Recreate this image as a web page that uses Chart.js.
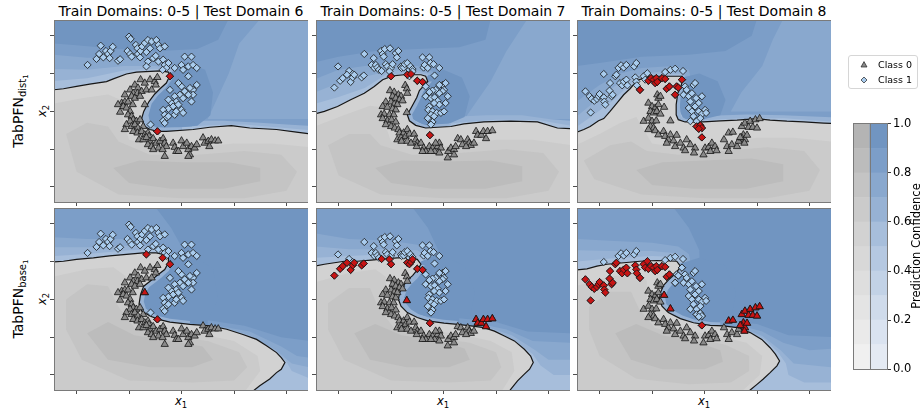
<!DOCTYPE html>
<html>
<head>
<meta charset="utf-8">
<script src="https://cdn.jsdelivr.net/npm/chart.js@4.4.1/dist/chart.umd.min.js"></script>
<style>
html,body{margin:0;padding:0;background:#fff}
body{width:924px;height:413px;position:relative;overflow:hidden;font-family:"DejaVu Sans",sans-serif;color:#000}
canvas{position:absolute}
.ttl{position:absolute;top:3px;width:254px;text-align:center;font-size:14px;line-height:16px;white-space:nowrap}
.rot{position:absolute;transform:translate(-50%,-50%) rotate(-90deg);white-space:nowrap;line-height:1}
.row{font-size:14px}
.row sub{font-size:10px;vertical-align:-3px}
.row sub sub{font-size:7px;vertical-align:-2px}
.ax{font-size:11.5px;font-style:italic;line-height:1}
.ax sub{font-style:normal;font-size:8.5px;vertical-align:-3px}
.xl{position:absolute;top:396px;transform:translateX(-50%);white-space:nowrap}
.cbl{font-size:11.5px}
.legend{position:absolute;left:848px;top:55px;width:68px;height:32px;border:1px solid #d6d6d6;border-radius:3px;background:#fff}
.legend .lab{position:absolute;left:29px;font-size:9.5px;line-height:11px;white-space:nowrap}
.legend svg{position:absolute;left:10px}
</style>
</head>
<body>
<div class="ttl" style="left:54px">Train Domains: 0-5 | Test Domain 6</div>
<div class="ttl" style="left:316px">Train Domains: 0-5 | Test Domain 7</div>
<div class="ttl" style="left:577px">Train Domains: 0-5 | Test Domain 8</div>

<div class="rot row" style="left:20px;top:111px">TabPFN<sub>dist<sub>1</sub></sub></div>
<div class="rot row" style="left:20px;top:299px">TabPFN<sub>base<sub>1</sub></sub></div>
<div class="rot ax" style="left:44px;top:111px">x<sub>2</sub></div>
<div class="rot ax" style="left:44px;top:299px">x<sub>2</sub></div>
<div class="ax xl" style="left:181px">x<sub>1</sub></div>
<div class="ax xl" style="left:443px">x<sub>1</sub></div>
<div class="ax xl" style="left:704px">x<sub>1</sub></div>

<canvas id="p1" width="258" height="186" style="left:50px;top:20px"></canvas>
<canvas id="p2" width="258" height="186" style="left:312px;top:20px"></canvas>
<canvas id="p3" width="258" height="186" style="left:573px;top:20px"></canvas>
<canvas id="p4" width="258" height="186" style="left:50px;top:208px"></canvas>
<canvas id="p5" width="258" height="186" style="left:312px;top:208px"></canvas>
<canvas id="p6" width="258" height="186" style="left:573px;top:208px"></canvas>

<canvas id="cbar" width="71" height="263" style="left:853px;top:115px"></canvas>
<div class="rot cbl" style="left:917px;top:246px">Prediction Confidence</div>

<div class="legend">
  <svg width="10" height="10" style="top:4px" viewBox="-5 -5 10 10"><polygon points="0,-3.4 3,2 -3,2" fill="#8a8a8a" stroke="#222" stroke-width="0.7"/></svg>
  <div class="lab" style="top:3px">Class 0</div>
  <svg width="10" height="10" style="top:19px" viewBox="-5 -5 10 10"><polygon points="0,-3 3,0 0,3 -3,0" fill="#a9ccee" stroke="#222" stroke-width="0.7"/></svg>
  <div class="lab" style="top:18px">Class 1</div>
</div>

<script>
// ---- axes (feature space) ----
const xLimits = [-2.43, 2.41];
const yLimits = [-2.40, 2.42];
const tickPositions = [-2, -1, 0, 1, 2];

// ---- colour bar: confidence band edges, tick labels, shades per class ----
const bandEdges = [0, 0.1, 0.2, 0.3, 0.4, 0.5, 0.6, 0.7, 0.8, 0.9, 1.0];
const cbarTicks = [0, 0.2, 0.4, 0.6, 0.8, 1.0];
const blueShades = ['#e4eaf3','#dae3f0','#cfdbeb','#c2d2e6','#b5c8e1','#a7bedb','#97b2d4','#89a8ce','#7c9ec8','#7195c1'];
const greyShades = ['#f0f0f0','#eaeaea','#e4e4e4','#dedede','#d8d8d8','#d2d2d2','#cbcbcb','#c4c4c4','#bcbcbc','#b4b4b4'];

// ---- test points, one set per test domain (x1, x2) ----
const trianglesD6 = [[-0.78,0.84],[-0.70,0.75],[-0.60,0.84],[-0.51,0.79],[-0.46,0.90],[-0.49,0.70],[-0.89,0.70],[-0.83,0.62],[-0.98,0.57],[-0.92,0.48],[-0.84,0.48],[-0.76,0.53],[-0.67,0.57],[-0.57,0.57],[-1.08,0.44],[-0.95,0.40],[-0.89,0.35],[-0.79,0.40],[-1.14,0.22],[-1.08,0.25],[-1.02,0.25],[-0.93,0.18],[-1.21,0.18],[-1.11,0.13],[-1.05,0.09],[-0.98,0.00],[-1.17,-0.02],[-1.02,-0.09],[-0.95,-0.13],[-0.92,-0.22],[-0.86,-0.26],[-0.79,-0.22],[-0.98,-0.26],[-1.05,-0.35],[-0.95,-0.40],[-0.89,-0.35],[-0.83,-0.44],[-1.08,-0.48],[-0.92,-0.53],[-0.84,-0.57],[-0.73,-0.40],[-0.76,-0.53],[-0.70,-0.62],[-0.64,-0.57],[-0.62,-0.66],[-0.81,-0.75],[-0.73,-0.75],[-0.67,-0.69],[-0.60,-0.79],[-0.54,-0.72],[-0.64,-0.88],[-0.57,-0.93],[-0.48,-0.84],[-0.41,-0.79],[-0.35,-0.72],[-0.32,-0.84],[-0.29,-0.93],[-0.44,-0.97],[-0.54,-1.01],[-0.36,-1.01],[-0.16,-0.84],[-0.13,-0.95],[-0.10,-1.06],[0.00,-0.78],[0.03,-0.93],[0.10,-0.84],[0.13,-1.01],[0.19,-0.93],[0.16,-1.15],[0.25,-0.97],[0.29,-0.88],[0.41,-0.70],[0.44,-0.84],[0.51,-0.79],[0.57,-0.75],[0.64,-0.78],[0.70,-0.78],[0.53,-0.93],[-0.06,-1.06],[-0.32,-1.19],[0.13,-1.19]];
const diamondsD6 = [[-1.79,1.23],[-1.62,1.39],[-1.57,1.52],[-1.54,1.74],[-1.49,1.43],[-1.44,1.60],[-1.40,1.52],[-1.37,1.41],[-1.35,1.60],[-1.31,1.71],[-1.21,1.34],[-1.17,1.38],[-1.00,1.98],[-0.97,1.92],[-1.03,1.60],[-0.98,1.52],[-0.95,1.45],[-0.87,1.76],[-0.84,1.67],[-0.83,1.52],[-0.79,1.43],[-0.78,1.60],[-0.75,1.72],[-0.70,1.81],[-0.67,1.57],[-0.64,1.89],[-0.60,1.67],[-0.57,1.85],[-0.54,1.41],[-0.64,1.32],[-0.48,1.89],[-0.44,1.76],[-0.41,1.67],[-0.32,1.72],[-0.49,1.47],[-0.44,1.32],[-0.35,1.37],[-0.32,1.23],[-0.25,1.28],[-0.29,1.15],[-0.13,1.15],[0.00,1.23],[0.06,1.45],[0.19,1.45],[0.03,1.10],[0.13,1.19],[0.22,1.23],[0.29,1.15],[0.13,0.93],[0.29,0.70],[0.22,0.57],[0.16,0.62],[0.06,0.53],[0.00,0.66],[-0.03,0.44],[-0.13,0.40],[-0.10,0.26],[-0.19,0.22],[-0.16,0.13],[-0.25,0.07],[-0.06,0.18],[0.00,0.04],[0.03,-0.04],[-0.35,0.04],[-0.32,-0.09],[-0.29,-0.18],[-0.35,-0.25],[-0.32,-0.31],[-0.25,-0.13],[-0.13,-0.09],[-0.10,0.00],[-0.25,0.31],[0.22,0.44],[0.19,0.26],[-0.22,0.57],[0.03,0.35],[0.13,0.44],[-0.59,-0.35],[-0.06,0.75]];

const trianglesD7 = [[-0.73,0.69],[-0.70,0.60],[-0.69,0.48],[-1.02,0.55],[-0.94,0.51],[-0.86,0.44],[-0.81,0.40],[-0.97,0.40],[-0.91,0.35],[-0.84,0.31],[-0.78,0.28],[-1.10,0.25],[-1.00,0.25],[-0.94,0.19],[-0.88,0.18],[-1.16,0.13],[-1.07,0.11],[-0.97,0.07],[-0.91,0.04],[-1.19,-0.09],[-1.13,-0.07],[-1.03,-0.09],[-0.95,-0.09],[-1.16,-0.19],[-1.07,-0.25],[-0.99,-0.22],[-0.91,-0.28],[-1.10,-0.35],[-1.00,-0.40],[-0.93,-0.44],[-0.86,-0.48],[-0.84,-0.57],[-0.76,-0.57],[-0.69,-0.48],[-0.88,-0.75],[-0.81,-0.70],[-0.72,-0.66],[-0.65,-0.60],[-0.56,-0.60],[-0.80,-0.79],[-0.69,-0.79],[-0.62,-0.84],[-0.53,-0.75],[-0.50,-0.84],[-0.51,-0.93],[-0.43,-0.84],[-0.38,-0.97],[-0.34,-1.06],[-0.27,-0.93],[-0.21,-0.97],[-0.17,-1.06],[-0.11,-0.93],[-0.08,-0.84],[-0.05,-0.97],[-0.08,-1.10],[0.08,-1.23],[0.09,-1.06],[0.14,-0.97],[0.20,-1.01],[0.23,-0.93],[0.27,-0.72],[0.33,-0.75],[0.36,-0.88],[0.46,-0.75],[0.49,-0.84],[0.52,-0.90],[0.58,-0.84],[0.43,-0.93],[0.20,-1.15],[-0.40,-1.06],[-0.24,-1.06],[-0.15,-0.84]];
const diamondsD7 = [[-2.01,1.19],[-1.80,1.07],[-1.73,0.99],[-1.51,1.52],[-1.37,1.23],[-1.33,1.41],[-1.32,1.15],[-1.29,1.23],[-1.26,1.16],[-1.23,1.10],[-1.19,1.60],[-1.16,1.52],[-1.14,1.45],[-1.12,1.65],[-1.10,1.25],[-1.07,1.19],[-1.02,1.67],[-1.00,1.15],[-0.97,1.25],[-0.91,1.54],[-0.89,1.43],[-0.86,1.60],[-0.81,1.19],[-0.80,1.15],[-0.76,1.16],[-0.74,1.25],[-0.69,1.28],[-0.65,1.10],[-0.63,1.19],[-0.59,1.12],[-0.40,1.43],[-0.38,1.16],[-0.36,1.23],[-0.27,1.43],[-0.30,1.15],[-0.25,1.28],[-0.19,1.25],[-0.17,0.95],[-0.08,1.15],[-0.02,0.70],[0.04,0.75],[0.08,0.40],[0.01,0.57],[0.04,0.22],[-0.02,0.53],[-0.08,0.48],[-0.15,0.57],[-0.21,0.55],[-0.27,0.51],[-0.34,0.40],[-0.24,0.35],[-0.17,0.37],[-0.11,0.28],[-0.08,0.18],[-0.18,0.22],[-0.27,0.13],[-0.29,0.04],[-0.21,0.00],[-0.13,-0.04],[-0.05,-0.04],[0.01,0.00],[-0.24,-0.09],[-0.27,-0.22],[-0.21,-0.28],[-0.24,-0.35],[-0.30,-0.18],[-0.18,-0.13],[-0.34,0.66],[-0.08,0.70]];

const trianglesD8 = [[-0.90,0.44],[-0.88,0.35],[-0.84,0.40],[-1.07,0.22],[-1.00,0.13],[-0.94,0.09],[-0.88,0.18],[-1.03,0.00],[-0.97,-0.04],[-0.91,0.00],[-0.84,-0.07],[-1.16,-0.26],[-1.07,-0.18],[-1.00,-0.26],[-0.92,-0.25],[-1.03,-0.40],[-0.97,-0.44],[-1.07,-0.48],[-0.94,-0.51],[-0.88,-0.62],[-0.78,-0.53],[-0.75,-0.66],[-0.69,-0.75],[-0.65,-0.62],[-0.59,-0.78],[-0.53,-0.63],[-0.72,-0.84],[-0.56,-0.93],[-0.46,-0.84],[-0.40,-0.97],[-0.34,-0.75],[-0.27,-0.88],[-0.37,-1.04],[-0.18,-0.97],[-0.20,-1.10],[-0.02,-1.15],[0.01,-0.97],[0.08,-0.95],[0.14,-0.84],[0.20,-0.93],[0.11,-1.06],[0.23,-1.04],[0.37,-0.75],[0.43,-0.93],[0.46,-1.06],[0.52,-0.88],[0.62,-0.93],[0.65,-0.79]];
const diamondsD8 = [[-1.92,0.99],[-1.64,1.15],[-1.59,1.22],[-1.54,1.16],[-1.49,1.23],[-1.34,1.19],[-1.30,1.28],[-0.75,1.04],[-0.65,1.10],[-0.56,1.13],[-0.41,1.07],[-0.53,0.66],[-0.50,0.63],[-0.43,0.84],[-0.56,0.44],[-0.15,-0.40],[-0.08,-0.37],[-0.05,-0.44],[-0.11,-0.46],[-0.37,0.66],[-0.34,0.57],[-0.40,0.44],[-0.30,0.40],[-0.27,0.26],[-0.21,0.70],[-0.18,0.75],[-0.24,0.48],[-0.16,0.35],[-0.11,0.22],[-0.05,0.40],[-0.30,0.09],[-0.24,0.00],[-0.18,0.13],[-0.11,0.00],[-0.05,-0.07],[0.01,0.04],[0.03,-0.04],[-0.21,-0.13],[-0.27,-0.26],[-0.15,-0.26],[-0.08,-0.18]];

// ---- misclassified points per model / test domain ----
const wrongDiaDist6 = [[-0.22,0.93],[-0.46,-0.53]];
const wrongTriBase6 = [[-0.70,0.18]];
const wrongDiaBase6 = [[-0.67,1.19],[-0.36,1.10],[-0.22,0.93],[-0.46,-0.53]];

const wrongDiaDist7 = [[-1.00,0.93],[-0.69,0.97],[-0.62,0.99],[-0.50,0.81],[-0.40,0.78],[-0.26,-0.63]];
const wrongTriBase7 = [[-0.70,-0.03],[0.62,-0.53],[0.65,-0.63],[0.72,-0.63],[0.76,-0.53],[0.84,-0.53],[0.93,-0.51],[0.81,-0.72]];
const wrongDiaBase7 = [[-2.08,0.63],[-1.97,0.81],[-1.92,0.88],[-1.84,0.97],[-1.77,0.78],[-1.73,0.90],[-1.70,0.97],[-1.56,0.90],[-1.52,0.95],[-1.18,1.07],[-1.03,1.06],[-1.00,0.93],[-0.69,0.97],[-0.65,0.93],[-0.62,0.99],[-0.59,1.06],[-0.50,0.81],[-0.40,0.78],[-0.26,-0.63]];

const wrongDiaDist8 = [[-1.23,0.57],[-1.07,0.81],[-1.02,0.88],[-0.97,0.84],[-0.94,0.75],[-0.92,0.88],[-0.90,0.78],[-0.81,0.88],[-0.75,0.86],[-0.72,0.60],[-0.67,0.66],[-0.53,0.66],[-0.50,0.63],[-0.43,0.84],[-0.56,0.44],[-0.15,-0.40],[-0.08,-0.37],[-0.05,-0.44],[-0.05,-0.69],[-0.11,-0.46]];
const wrongTriBase8 = [[-0.77,0.11],[-0.65,-0.25],[0.46,-0.57],[0.54,-0.55],[0.71,-0.40],[0.77,-0.31],[0.87,-0.26],[0.97,-0.22],[1.05,-0.19],[0.84,-0.42],[0.92,-0.42],[1.00,-0.44],[0.74,-0.62],[0.71,-0.70],[0.77,-0.75],[0.68,-0.69],[0.76,-0.84],[0.81,-0.63]];
const wrongDiaBase8 = [[-2.27,0.53],[-2.19,0.40],[-2.15,0.33],[-2.10,0.28],[-2.05,0.33],[-2.02,0.40],[-2.00,0.46],[-1.92,0.37],[-1.91,0.26],[-1.89,0.18],[-2.17,-0.03],[-1.81,0.55],[-1.80,0.75],[-1.77,0.40],[-1.75,0.44],[-1.70,0.93],[-1.68,0.97],[-1.61,0.75],[-1.57,0.69],[-1.54,0.79],[-1.49,0.84],[-1.47,0.69],[-1.32,0.90],[-1.30,0.79],[-1.29,0.69],[-1.23,0.57],[-1.16,0.93],[-1.13,0.84],[-1.09,1.01],[-1.07,0.81],[-1.02,0.88],[-0.97,0.84],[-0.94,0.75],[-0.92,0.88],[-0.90,0.78],[-0.81,0.88],[-0.75,0.86],[-0.72,0.60],[-0.67,0.66],[-0.05,-0.69]];

// ---- decision boundaries (p = 0.5 contour) ----
const edgeDist6 = [[-2.45,0.57],[-2.25,0.60],[-2.00,0.66],[-1.75,0.72],[-1.43,0.79],[-1.30,0.86],[-1.05,0.99],[-0.86,1.04],[-0.41,1.07],[-0.25,1.04],[-0.22,0.95],[-0.29,0.75],[-0.41,0.60],[-0.51,0.46],[-0.62,0.26],[-0.72,0.00],[-0.76,-0.19],[-0.70,-0.40],[-0.60,-0.48],[-0.46,-0.53],[-0.29,-0.53],[0.22,-0.48],[0.54,-0.42],[0.95,-0.38],[1.30,-0.44],[1.81,-0.48],[2.19,-0.55],[2.43,-0.59]];
const edgeDist7 = [[-2.45,-0.07],[-2.27,0.00],[-2.02,0.13],[-1.77,0.31],[-1.51,0.48],[-1.32,0.66],[-1.16,0.84],[-0.97,0.94],[-0.75,0.97],[-0.43,0.97],[-0.34,0.93],[-0.30,0.79],[-0.37,0.69],[-0.46,0.55],[-0.51,0.37],[-0.59,0.16],[-0.69,-0.09],[-0.65,-0.25],[-0.53,-0.37],[-0.34,-0.44],[-0.11,-0.42],[0.14,-0.40],[0.39,-0.33],[0.77,-0.28],[1.28,-0.26],[1.79,-0.28],[2.17,-0.44],[2.43,-0.46]];
const edgeDist8 = [[-2.45,-0.56],[-2.30,-0.48],[-2.18,-0.40],[-2.02,-0.25],[-1.92,-0.19],[-1.80,0.00],[-1.67,0.22],[-1.54,0.44],[-1.42,0.60],[-1.29,0.81],[-1.13,0.90],[-1.03,0.93],[-0.43,0.93],[-0.42,0.81],[-0.45,0.66],[-0.51,0.48],[-0.54,0.18],[-0.54,-0.09],[-0.50,-0.22],[-0.37,-0.28],[-0.02,-0.28],[0.30,-0.25],[0.62,-0.23],[1.00,-0.19],[1.25,-0.23],[1.57,-0.26],[1.89,-0.28],[2.27,-0.31],[2.43,-0.32]];
const edgeBase6 = [[-2.45,0.99],[-2.25,1.01],[-2.00,1.06],[-1.68,1.10],[-1.37,1.15],[-1.05,1.19],[-0.73,1.23],[-0.48,1.23],[-0.35,1.19],[-0.25,1.10],[-0.25,0.97],[-0.32,0.79],[-0.48,0.62],[-0.60,0.48],[-0.72,0.35],[-0.78,0.13],[-0.81,-0.13],[-0.76,-0.31],[-0.60,-0.44],[-0.44,-0.53],[-0.22,-0.60],[0.16,-0.66],[0.54,-0.70],[0.86,-0.79],[1.17,-0.93],[1.43,-1.06],[1.62,-1.23],[1.81,-1.41],[1.90,-1.54],[1.97,-1.67],[1.90,-1.85],[1.81,-1.94],[1.68,-2.11],[1.49,-2.29],[1.37,-2.42],[1.33,-2.47]];
const edgeBase7 = [[-2.45,0.88],[-2.27,0.93],[-2.08,0.97],[-1.89,1.01],[-1.64,1.01],[-1.38,1.04],[-1.13,1.07],[-0.88,1.10],[-0.62,1.10],[-0.50,1.06],[-0.43,0.93],[-0.50,0.78],[-0.59,0.63],[-0.69,0.51],[-0.78,0.33],[-0.84,0.16],[-0.86,0.00],[-0.81,-0.18],[-0.69,-0.35],[-0.50,-0.48],[-0.30,-0.57],[0.01,-0.63],[0.27,-0.66],[0.52,-0.70],[0.77,-0.75],[0.97,-0.84],[1.16,-0.97],[1.35,-1.10],[1.54,-1.32],[1.66,-1.50],[1.71,-1.67],[1.64,-1.85],[1.54,-1.98],[1.41,-2.16],[1.28,-2.38],[1.24,-2.47]];
const edgeBase8 = [[-2.45,0.78],[-2.24,0.81],[-2.05,0.88],[-1.86,0.93],[-1.54,0.97],[-1.23,1.01],[-0.91,1.03],[-0.53,1.01],[-0.46,0.88],[-0.50,0.78],[-0.59,0.64],[-0.69,0.51],[-0.78,0.37],[-0.84,0.18],[-0.86,0.00],[-0.81,-0.18],[-0.69,-0.35],[-0.46,-0.51],[-0.21,-0.62],[0.11,-0.69],[0.36,-0.70],[0.62,-0.75],[0.87,-0.88],[1.09,-1.06],[1.25,-1.28],[1.35,-1.45],[1.43,-1.63],[1.38,-1.76],[1.25,-1.94],[1.12,-2.11],[1.00,-2.25],[0.87,-2.40],[0.83,-2.46]];

// ---- filled confidence contours: [lower level, polygon] ----
const fullArea = [[-2.45,-2.45],[2.45,-2.45],[2.45,2.45],[-2.45,2.45]];
const blueDist6 = [
  [0.8, fullArea],
  [0.9, [[-2.45,2.45],[0.9,2.45],[0.7,1.9],[0.3,1.65],[-0.4,1.6],[-1.2,1.65],[-2.0,1.75],[-2.45,1.8]]],
  [0.7, [[2.45,2.45],[1.5,2.45],[1.1,1.8],[0.9,1.0],[0.7,0.4],[0.5,-0.2],[2.45,-0.2]]],
  [0.7, [[-2.45,1.5],[-1.8,1.42],[-1.05,1.42],[-0.5,1.32],[-0.15,1.22],[-0.05,0.9],[-0.2,-2.45],[-2.45,-2.45]]],
  [0.6, [[-2.45,1.12],[-1.8,1.1],[-1.1,1.2],[-0.5,1.2],[-0.18,1.12],[-0.12,0.9],[-0.3,-2.45],[-2.45,-2.45]]],
  [0.5, [[-2.45,0.8],[-1.8,0.88],[-1.1,1.08],[-0.5,1.13],[-0.2,1.09],[-0.17,0.9],[-0.4,-2.45],[-2.45,-2.45]]],
  [0.6, [[0.2,-0.25],[0.8,-0.25],[1.5,-0.3],[2.0,-0.35],[2.45,-0.38],[2.45,-2.45],[0.2,-2.45]]],
  [0.5, [[0.0,-0.42],[0.6,-0.36],[1.2,-0.35],[1.8,-0.42],[2.45,-0.5],[2.45,-2.45],[0.0,-2.45]]],
  [0.9, [[-0.22,1.0],[0.1,1.3],[0.45,1.1],[0.6,0.5],[0.55,-0.1],[0.3,-0.38],[-0.3,-0.45],[-0.6,-0.42],[-0.68,-0.15],[-0.62,0.15],[-0.45,0.5],[-0.27,0.75]]],
  [0.6, [[-0.22,0.97],[-0.29,0.76],[-0.41,0.6],[-0.51,0.46],[-0.62,0.26],[-0.72,0.0],[-0.76,-0.19],[-0.70,-0.40],[-0.60,-0.48],[-0.46,-0.53],[-0.29,-0.53],[0.0,-0.5],[0.0,-0.42],[-0.3,-0.43],[-0.5,-0.42],[-0.6,-0.3],[-0.63,-0.1],[-0.57,0.2],[-0.45,0.42],[-0.3,0.62],[-0.18,0.85]]]
];
const greyDist6 = [
  [0.6, [[-2.45,0.2],[-1.9,0.35],[-1.4,0.45],[-1.15,0.3],[-1.1,-0.3],[-1.0,-0.75],[-0.5,-0.95],[0.3,-0.95],[1.0,-0.85],[1.7,-0.85],[2.45,-0.95],[2.45,-2.45],[-2.45,-2.45]]],
  [0.7, [[-2.2,-0.6],[-1.8,-0.3],[-1.4,-0.4],[-1.2,-0.8],[-0.6,-1.15],[0.3,-1.15],[1.2,-1.05],[1.9,-1.15],[2.2,-1.6],[2.0,-2.1],[1.2,-2.3],[0.0,-2.3],[-1.2,-2.2],[-2.0,-1.6]]],
  [0.8, [[-1.3,-1.5],[-0.8,-1.3],[0.0,-1.35],[0.9,-1.35],[1.5,-1.5],[1.5,-1.85],[0.8,-2.05],[-0.2,-2.05],[-1.0,-1.9]]]
];
const blueDist7 = [
  [0.8, fullArea],
  [0.9, [[-2.45,2.45],[0.9,2.45],[0.8,1.9],[0.3,1.7],[-0.5,1.65],[-1.3,1.6],[-2.0,1.45],[-2.45,1.3]]],
  [0.7, [[2.45,2.45],[1.6,2.45],[1.2,1.6],[0.9,0.8],[0.6,0.2],[0.4,-0.2],[2.45,-0.2]]],
  [0.7, [[-2.45,0.85],[-2.0,1.1],[-1.5,1.2],[-1.0,1.25],[-0.5,1.2],[-0.2,1.05],[-0.15,0.8],[-0.3,-2.45],[-2.45,-2.45]]],
  [0.6, [[-2.45,0.5],[-2.0,0.75],[-1.5,0.92],[-1.0,1.08],[-0.5,1.08],[-0.25,1.0],[-0.22,0.8],[-0.4,-2.45],[-2.45,-2.45]]],
  [0.5, [[-2.45,0.2],[-2.0,0.38],[-1.5,0.62],[-1.1,0.97],[-0.5,1.02],[-0.3,0.97],[-0.27,0.8],[-0.5,-2.45],[-2.45,-2.45]]],
  [0.6, [[0.1,-0.15],[0.8,-0.1],[1.5,-0.1],[2.0,-0.2],[2.45,-0.25],[2.45,-2.45],[0.1,-2.45]]],
  [0.5, [[-0.1,-0.36],[0.4,-0.28],[1.0,-0.22],[1.8,-0.23],[2.45,-0.38],[2.45,-2.45],[-0.1,-2.45]]],
  [0.9, [[-0.3,0.95],[0.0,1.1],[0.35,0.9],[0.5,0.4],[0.4,-0.15],[0.1,-0.33],[-0.35,-0.38],[-0.6,-0.2],[-0.62,0.1],[-0.5,0.4],[-0.38,0.7]]],
  [0.6, [[-0.30,0.79],[-0.37,0.69],[-0.46,0.55],[-0.51,0.37],[-0.59,0.16],[-0.69,-0.09],[-0.65,-0.25],[-0.53,-0.37],[-0.34,-0.44],[-0.11,-0.42],[0.14,-0.40],[0.14,-0.32],[-0.11,-0.34],[-0.34,-0.36],[-0.5,-0.3],[-0.58,-0.2],[-0.6,-0.08],[-0.5,0.16],[-0.43,0.37],[-0.38,0.53],[-0.29,0.67],[-0.22,0.79]]]
];
const greyDist7 = [
  [0.6, [[-2.45,-0.4],[-1.9,-0.1],[-1.4,0.15],[-1.15,0.1],[-1.1,-0.4],[-1.0,-0.8],[-0.5,-0.95],[0.3,-0.9],[1.0,-0.75],[1.7,-0.75],[2.45,-0.9],[2.45,-2.45],[-2.45,-2.45]]],
  [0.7, [[-2.2,-0.9],[-1.8,-0.6],[-1.4,-0.6],[-1.2,-0.9],[-0.6,-1.15],[0.3,-1.1],[1.2,-1.0],[1.9,-1.1],[2.2,-1.6],[2.0,-2.1],[1.2,-2.3],[0.0,-2.3],[-1.2,-2.2],[-2.0,-1.7]]],
  [0.8, [[-1.3,-1.5],[-0.8,-1.3],[0.0,-1.33],[0.9,-1.3],[1.5,-1.45],[1.5,-1.85],[0.8,-2.05],[-0.2,-2.05],[-1.0,-1.9]]]
];
const blueDist8 = [
  [0.8, fullArea],
  [0.9, [[-2.45,2.45],[1.0,2.45],[0.9,2.0],[0.4,1.6],[-0.3,1.5],[-1.2,1.45],[-1.9,1.3],[-2.45,1.2]]],
  [0.7, [[2.45,2.45],[1.5,2.45],[1.3,1.9],[1.1,1.2],[0.7,0.5],[0.5,0.0],[2.45,0.0]]],
  [0.7, [[-2.45,0.25],[-2.0,0.7],[-1.6,1.0],[-1.2,1.15],[-0.6,1.2],[-0.3,1.1],[-0.25,0.8],[-0.3,-2.45],[-2.45,-2.45]]],
  [0.6, [[-2.45,-0.15],[-2.1,0.25],[-1.7,0.68],[-1.3,0.97],[-0.8,1.06],[-0.4,1.02],[-0.35,0.8],[-0.4,-2.45],[-2.45,-2.45]]],
  [0.5, [[-2.45,-0.42],[-2.1,-0.08],[-1.75,0.28],[-1.42,0.72],[-1.1,0.98],[-0.45,0.98],[-0.4,0.8],[-0.45,-2.45],[-2.45,-2.45]]],
  [0.6, [[0.0,-0.12],[0.8,-0.08],[1.5,-0.1],[2.45,-0.16],[2.45,-2.45],[0.0,-2.45]]],
  [0.5, [[-0.2,-0.25],[0.6,-0.19],[1.5,-0.18],[2.45,-0.27],[2.45,-2.45],[-0.2,-2.45]]],
  [0.9, [[-0.42,0.9],[-0.1,1.0],[0.25,0.8],[0.4,0.3],[0.3,-0.1],[0.0,-0.2],[-0.4,-0.2],[-0.47,0.0],[-0.47,0.4],[-0.42,0.7]]],
  [0.6, [[-0.42,0.81],[-0.45,0.66],[-0.51,0.48],[-0.54,0.18],[-0.54,-0.09],[-0.50,-0.22],[-0.37,-0.28],[-0.02,-0.28],[-0.02,-0.21],[-0.35,-0.21],[-0.45,-0.13],[-0.47,0.15],[-0.45,0.45],[-0.39,0.65],[-0.36,0.8]]]
];
const greyDist8 = [
  [0.6, [[-2.45,-0.9],[-2.0,-0.6],[-1.6,-0.3],[-1.3,-0.15],[-1.15,-0.5],[-1.0,-0.85],[-0.5,-0.95],[0.3,-0.85],[1.0,-0.7],[1.7,-0.7],[2.45,-0.8],[2.45,-2.45],[-2.45,-2.45]]],
  [0.7, [[-2.3,-1.3],[-1.8,-0.9],[-1.4,-0.8],[-1.1,-1.05],[-0.5,-1.15],[0.3,-1.05],[1.2,-0.95],[1.9,-1.05],[2.2,-1.55],[2.0,-2.1],[1.2,-2.3],[0.0,-2.3],[-1.2,-2.2],[-2.1,-1.8]]],
  [0.8, [[-1.3,-1.55],[-0.8,-1.35],[0.0,-1.3],[0.9,-1.25],[1.5,-1.4],[1.5,-1.85],[0.8,-2.05],[-0.2,-2.05],[-1.0,-1.95]]]
];
const blueBase6 = [
  [0.9, fullArea],
  [0.8, [[-2.45,2.45],[-0.5,2.45],[-0.2,1.9],[0.0,1.4],[0.05,-2.45],[-2.45,-2.45]]],
  [0.7, [[-2.45,1.65],[-1.8,1.6],[-1.0,1.6],[-0.5,1.5],[-0.2,1.3],[-0.12,1.0],[-0.3,-2.45],[-2.45,-2.45]]],
  [0.6, [[-2.45,1.38],[-1.8,1.38],[-1.0,1.42],[-0.5,1.4],[-0.2,1.22],[-0.18,1.0],[-0.35,-2.45],[-2.45,-2.45]]],
  [0.5, [[-2.45,1.15],[-1.8,1.2],[-1.0,1.3],[-0.5,1.32],[-0.25,1.18],[-0.22,0.97],[-0.4,-2.45],[-2.45,-2.45]]],
  [0.9, [[-0.25,1.15],[0.1,1.3],[0.6,0.8],[0.7,0.0],[0.5,-0.55],[0.0,-0.6],[-0.45,-0.5],[-0.75,-0.3],[-0.8,0.0],[-0.75,0.3],[-0.5,0.65],[-0.3,0.9]]],
  [0.6, [[-0.25,0.97],[-0.32,0.79],[-0.48,0.62],[-0.60,0.48],[-0.72,0.35],[-0.78,0.13],[-0.81,-0.13],[-0.76,-0.31],[-0.60,-0.44],[-0.44,-0.53],[-0.22,-0.60],[0.16,-0.66],[0.16,-0.57],[-0.22,-0.51],[-0.44,-0.44],[-0.56,-0.36],[-0.68,-0.24],[-0.72,-0.05],[-0.69,0.15],[-0.62,0.32],[-0.5,0.45],[-0.38,0.58],[-0.24,0.76],[-0.17,0.97]]],
  [0.8, [[0.5,-0.55],[1.2,-0.7],[1.9,-1.0],[2.45,-1.1],[2.45,-2.45],[0.5,-2.45]]],
  [0.7, [[0.6,-0.68],[1.3,-0.85],[1.9,-1.25],[2.2,-1.5],[2.45,-1.55],[2.45,-2.45],[0.6,-2.45]]],
  [0.6, [[0.8,-0.75],[1.3,-0.95],[1.8,-1.35],[2.1,-1.7],[2.45,-1.8],[2.45,-2.45],[0.8,-2.45]]],
  [0.5, [[0.9,-0.8],[1.3,-1.0],[1.7,-1.35],[2.0,-1.65],[2.1,-1.9],[2.45,-2.1],[2.45,-2.45],[0.9,-2.45]]]
];
const greyBase6 = [
  [0.6, [[-2.45,0.6],[-1.8,0.8],[-1.3,0.85],[-1.05,0.6],[-1.05,0.0],[-0.95,-0.55],[-0.5,-0.8],[0.3,-0.9],[1.0,-1.1],[1.45,-1.5],[1.5,-1.9],[1.2,-2.45],[-2.45,-2.45]]],
  [0.7, [[-2.2,0.0],[-1.8,0.4],[-1.4,0.35],[-1.2,-0.2],[-0.9,-0.75],[-0.3,-0.95],[0.5,-1.1],[1.1,-1.4],[1.25,-1.8],[1.0,-2.15],[0.2,-2.2],[-1.0,-2.15],[-1.9,-1.6],[-2.2,-0.8]]],
  [0.8, [[-1.8,-0.9],[-1.4,-0.6],[-0.9,-0.95],[-0.2,-1.1],[0.4,-1.25],[0.6,-1.6],[0.2,-1.8],[-0.6,-1.8],[-1.4,-1.6]]]
];
const blueBase7 = [
  [0.9, fullArea],
  [0.8, [[-2.45,2.45],[-0.6,2.45],[-0.3,1.9],[-0.1,1.3],[0.0,-2.45],[-2.45,-2.45]]],
  [0.7, [[-2.45,1.75],[-1.8,1.6],[-1.0,1.55],[-0.5,1.45],[-0.25,1.25],[-0.2,1.0],[-0.35,-2.45],[-2.45,-2.45]]],
  [0.6, [[-2.45,1.4],[-1.8,1.33],[-1.0,1.33],[-0.5,1.3],[-0.32,1.15],[-0.3,0.95],[-0.4,-2.45],[-2.45,-2.45]]],
  [0.5, [[-2.45,1.1],[-1.8,1.15],[-1.0,1.2],[-0.55,1.18],[-0.38,1.07],[-0.36,0.9],[-0.45,-2.45],[-2.45,-2.45]]],
  [0.9, [[-0.43,1.0],[-0.1,1.2],[0.4,0.9],[0.6,0.2],[0.5,-0.5],[0.0,-0.55],[-0.5,-0.4],[-0.75,-0.15],[-0.78,0.15],[-0.65,0.45],[-0.5,0.7]]],
  [0.6, [[-0.43,0.93],[-0.50,0.78],[-0.59,0.63],[-0.69,0.51],[-0.78,0.33],[-0.84,0.16],[-0.86,0.00],[-0.81,-0.18],[-0.69,-0.35],[-0.50,-0.48],[-0.30,-0.57],[0.01,-0.63],[0.27,-0.66],[0.27,-0.57],[0.0,-0.54],[-0.3,-0.48],[-0.48,-0.39],[-0.62,-0.27],[-0.72,-0.1],[-0.75,0.05],[-0.7,0.25],[-0.6,0.42],[-0.5,0.55],[-0.42,0.7],[-0.36,0.9]]],
  [0.8, [[0.3,-0.5],[1.0,-0.6],[1.6,-0.85],[2.45,-0.9],[2.45,-2.45],[0.3,-2.45]]],
  [0.7, [[0.6,-0.62],[1.2,-0.8],[1.7,-1.1],[2.45,-1.15],[2.45,-2.45],[0.6,-2.45]]],
  [0.6, [[0.8,-0.72],[1.3,-0.95],[1.75,-1.35],[2.0,-1.6],[2.45,-1.6],[2.45,-2.45],[0.8,-2.45]]],
  [0.5, [[0.9,-0.8],[1.35,-1.08],[1.7,-1.45],[1.85,-1.75],[2.1,-2.0],[2.45,-2.0],[2.45,-2.45],[0.9,-2.45]]]
];
const greyBase7 = [
  [0.6, [[-2.45,0.45],[-1.8,0.7],[-1.3,0.8],[-1.1,0.6],[-1.1,0.0],[-1.0,-0.5],[-0.5,-0.8],[0.3,-0.92],[0.9,-1.1],[1.3,-1.4],[1.35,-1.9],[1.1,-2.45],[-2.45,-2.45]]],
  [0.7, [[-2.2,-0.1],[-1.8,0.3],[-1.4,0.3],[-1.25,-0.2],[-0.95,-0.75],[-0.3,-0.98],[0.5,-1.15],[1.0,-1.4],[1.1,-1.8],[0.9,-2.15],[0.1,-2.2],[-1.0,-2.15],[-1.9,-1.6],[-2.2,-0.8]]],
  [0.8, [[-1.7,-0.9],[-1.3,-0.65],[-0.8,-0.95],[-0.1,-1.1],[0.4,-1.3],[0.5,-1.6],[0.1,-1.8],[-0.7,-1.8],[-1.4,-1.6]]]
];
const blueBase8 = [
  [0.9, fullArea],
  [0.8, [[-2.45,2.45],[-0.6,2.45],[-0.3,1.9],[-0.1,1.3],[0.0,-2.45],[-2.45,-2.45]]],
  [0.7, [[-2.45,1.6],[-1.8,1.55],[-1.0,1.5],[-0.5,1.4],[-0.3,1.2],[-0.25,0.9],[-0.4,-2.45],[-2.45,-2.45]]],
  [0.6, [[-2.45,1.3],[-1.8,1.28],[-1.0,1.28],[-0.55,1.22],[-0.36,1.08],[-0.33,0.88],[-0.45,-2.45],[-2.45,-2.45]]],
  [0.5, [[-2.45,1.0],[-1.8,1.08],[-1.0,1.15],[-0.55,1.12],[-0.42,1.0],[-0.4,0.85],[-0.5,-2.45],[-2.45,-2.45]]],
  [0.9, [[-0.46,0.95],[-0.1,1.1],[0.4,0.9],[0.6,0.2],[0.5,-0.55],[0.0,-0.6],[-0.5,-0.45],[-0.75,-0.15],[-0.78,0.15],[-0.65,0.45],[-0.52,0.7]]],
  [0.6, [[-0.46,0.88],[-0.50,0.78],[-0.59,0.64],[-0.69,0.51],[-0.78,0.37],[-0.84,0.18],[-0.86,0.00],[-0.81,-0.18],[-0.69,-0.35],[-0.46,-0.51],[-0.21,-0.62],[0.11,-0.69],[0.36,-0.70],[0.36,-0.61],[0.1,-0.6],[-0.2,-0.53],[-0.42,-0.43],[-0.6,-0.29],[-0.73,-0.12],[-0.75,0.05],[-0.7,0.25],[-0.6,0.42],[-0.5,0.55],[-0.42,0.7],[-0.38,0.86]]],
  [0.8, [[0.3,-0.55],[1.0,-0.65],[1.6,-0.95],[2.45,-1.0],[2.45,-2.45],[0.3,-2.45]]],
  [0.7, [[0.6,-0.66],[1.1,-0.85],[1.5,-1.15],[2.0,-1.35],[2.45,-1.3],[2.45,-2.45],[0.6,-2.45]]],
  [0.6, [[0.7,-0.75],[1.1,-0.97],[1.45,-1.35],[1.7,-1.7],[2.45,-1.8],[2.45,-2.45],[0.7,-2.45]]],
  [0.5, [[0.8,-0.82],[1.15,-1.07],[1.4,-1.4],[1.55,-1.7],[1.6,-2.0],[1.9,-2.2],[2.45,-2.2],[2.45,-2.45],[0.8,-2.45]]]
];
const greyBase8 = [
  [0.6, [[-2.45,0.35],[-1.8,0.6],[-1.3,0.7],[-1.1,0.5],[-1.1,-0.1],[-1.0,-0.5],[-0.5,-0.8],[0.2,-0.95],[0.8,-1.15],[1.1,-1.5],[1.05,-2.0],[0.7,-2.45],[-2.45,-2.45]]],
  [0.7, [[-2.2,-0.2],[-1.8,0.2],[-1.4,0.2],[-1.25,-0.25],[-0.95,-0.75],[-0.3,-1.0],[0.4,-1.2],[0.85,-1.5],[0.85,-1.9],[0.5,-2.2],[-0.3,-2.25],[-1.3,-2.1],[-2.0,-1.5],[-2.2,-0.8]]],
  [0.8, [[-1.7,-0.9],[-1.3,-0.65],[-0.8,-0.95],[-0.1,-1.15],[0.3,-1.35],[0.35,-1.65],[0.0,-1.85],[-0.8,-1.85],[-1.4,-1.6]]]
];
// corners that close the class-0 side of each boundary
const closeTop = [[2.45,-2.45],[-2.45,-2.45]];
const closeBottom = [[-2.45,-2.45]];

// ---- styling ----
const frameColour = '#7a7a7a';
const tickColour = '#3a3a3a';
const triangleFill = '#8a8a8a';
const diamondFill = '#a9ccee';
const wrongFill = '#c81414';
const markerEdge = '#151515';

Chart.defaults.font.family = '"DejaVu Sans", sans-serif';
Chart.defaults.animation = false;

const asXY = pts => pts.map(([x, y]) => ({x, y}));
const shadeOf = (cls, level) => (cls ? blueShades : greyShades)[Math.round(level * 10)];

function polygonSet(pts, colour) {
  return {data: asXY(pts), showLine: true, fill: 'shape', backgroundColor: colour,
          borderColor: 'rgba(0,0,0,0)', borderWidth: 0, pointRadius: 0};
}
function markerSet(pts, style, fillColour, radius) {
  return {data: asXY(pts), showLine: false, pointStyle: style, pointRadius: radius,
          pointBackgroundColor: fillColour, pointBorderColor: markerEdge, pointBorderWidth: 0.8};
}
function linearAxis(position, limits, withTicks) {
  const axis = {type: 'linear', position, min: limits[0], max: limits[1],
    ticks: {display: false},
    border: {display: true, color: frameColour, width: 1, z: 2}};
  if (withTicks) {
    axis.afterBuildTicks = s => { s.ticks = tickPositions.map(v => ({value: v})); };
    axis.grid = {display: true, drawOnChartArea: false, drawTicks: true, tickLength: 4, tickColor: tickColour, tickWidth: 0.9};
  } else {
    axis.grid = {display: false, drawTicks: false};
  }
  return axis;
}

function drawPanel(id, spec) {
  const ds = [];
  spec.blue.forEach(([lv, pts]) => ds.push(polygonSet(pts, shadeOf(1, lv))));
  ds.push(polygonSet(spec.edge.concat(spec.close), shadeOf(0, 0.5)));
  spec.grey.forEach(([lv, pts]) => ds.push(polygonSet(pts, shadeOf(0, lv))));
  ds.push({data: asXY(spec.edge), showLine: true, fill: false, borderColor: '#161616', borderWidth: 1.2, pointRadius: 0});
  ds.push(markerSet(spec.tri, 'triangle', triangleFill, 4.2));
  ds.push(markerSet(spec.dia, 'rectRot', diamondFill, 3.6));
  ds.push(markerSet(spec.wrongTri, 'triangle', wrongFill, 4.2));
  ds.push(markerSet(spec.wrongDia, 'rectRot', wrongFill, 3.6));
  // later entries are painted on top
  ds.forEach((d, i) => { d.order = ds.length - i; });
  new Chart(document.getElementById(id), {
    type: 'scatter',
    data: {datasets: ds},
    options: {
      responsive: false, maintainAspectRatio: false, events: [],
      layout: {padding: 0, autoPadding: false},
      plugins: {legend: {display: false}, tooltip: {enabled: false}},
      scales: {
        x: linearAxis('bottom', xLimits, true),
        y: linearAxis('left', yLimits, true),
        xTop: linearAxis('top', xLimits, false),
        yRight: linearAxis('right', yLimits, false)
      }
    }
  });
}

const allTri6 = trianglesD6.concat(wrongTriBase6);
const allDia6 = diamondsD6.concat(wrongDiaDist6, wrongDiaBase6);
const allTri7 = trianglesD7.concat(wrongTriBase7);
const allDia7 = diamondsD7.concat(wrongDiaDist7, wrongDiaBase7);
const allTri8 = trianglesD8.concat(wrongTriBase8);
const allDia8 = diamondsD8.concat(wrongDiaDist8, wrongDiaBase8);

drawPanel('p1', {blue: blueDist6, grey: greyDist6, edge: edgeDist6, close: closeTop, tri: allTri6, dia: allDia6, wrongTri: [], wrongDia: wrongDiaDist6});
drawPanel('p2', {blue: blueDist7, grey: greyDist7, edge: edgeDist7, close: closeTop, tri: allTri7, dia: allDia7, wrongTri: [], wrongDia: wrongDiaDist7});
drawPanel('p3', {blue: blueDist8, grey: greyDist8, edge: edgeDist8, close: closeTop, tri: allTri8, dia: allDia8, wrongTri: [], wrongDia: wrongDiaDist8});
drawPanel('p4', {blue: blueBase6, grey: greyBase6, edge: edgeBase6, close: closeBottom, tri: allTri6, dia: allDia6, wrongTri: wrongTriBase6, wrongDia: wrongDiaBase6});
drawPanel('p5', {blue: blueBase7, grey: greyBase7, edge: edgeBase7, close: closeBottom, tri: allTri7, dia: allDia7, wrongTri: wrongTriBase7, wrongDia: wrongDiaBase7});
drawPanel('p6', {blue: blueBase8, grey: greyBase8, edge: edgeBase8, close: closeBottom, tri: allTri8, dia: allDia8, wrongTri: wrongTriBase8, wrongDia: wrongDiaBase8});

// ---- colour bar: one column per class, one floating bar per confidence band ----
new Chart(document.getElementById('cbar'), {
  type: 'bar',
  data: {
    labels: ['Class 0', 'Class 1'],
    datasets: bandEdges.slice(0, -1).map((lo, i) => ({
      data: [[lo, bandEdges[i + 1]], [lo, bandEdges[i + 1]]],
      backgroundColor: [greyShades[i], blueShades[i]],
      borderWidth: 0, barPercentage: 1, categoryPercentage: 1, grouped: false
    }))
  },
  options: {
    responsive: false, maintainAspectRatio: false, events: [],
    layout: {autoPadding: false, padding: {top: 8, bottom: 8, left: 0, right: 0}},
    plugins: {legend: {display: false}, tooltip: {enabled: false}},
    scales: {
      x: {ticks: {display: false}, grid: {offset: true, drawTicks: false, color: frameColour, lineWidth: 1, z: 1},
          border: {display: true, color: frameColour, z: 2}},
      xTop: {type: 'category', position: 'top', ticks: {display: false}, grid: {display: false, drawTicks: false},
             border: {display: true, color: frameColour, z: 2}},
      y: {position: 'right', min: 0, max: 1,
          afterBuildTicks: s => { s.ticks = cbarTicks.map(v => ({value: v})); },
          afterFit: s => { s.width = 37; },
          ticks: {callback: v => Number(v).toFixed(1), font: {size: 11.5}, color: '#000', padding: 2},
          grid: {drawOnChartArea: false, drawTicks: true, tickLength: 4, tickColor: tickColour},
          border: {display: true, color: frameColour, z: 2}}
    }
  }
});
</script>
</body>
</html>
